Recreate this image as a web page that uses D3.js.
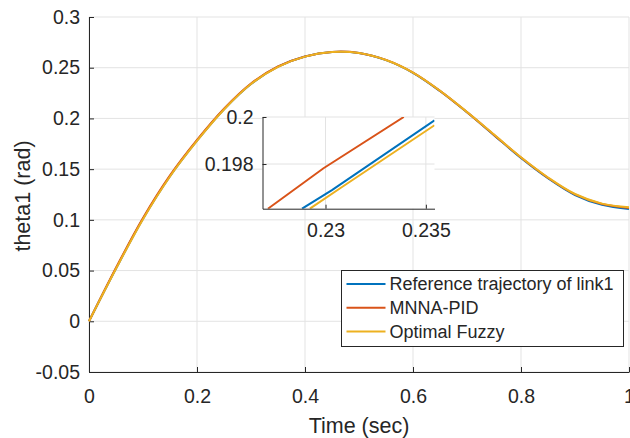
<!DOCTYPE html>
<html>
<head>
<meta charset="utf-8">
<script src="https://cdn.jsdelivr.net/npm/d3@7"></script>
<style>
  body { margin: 0; background: #fff; }
  text { font-family: "Liberation Sans", Arial, sans-serif; fill: #262626; }
</style>
</head>
<body>
<div id="chart"></div>
<script>
// Time samples (sec) and theta1 values (rad)
const time = [0, 0.05, 0.1, 0.15, 0.2, 0.25, 0.3, 0.35, 0.4, 0.45, 0.5,
              0.55, 0.6, 0.65, 0.7, 0.75, 0.8, 0.85, 0.9, 0.95, 1.0];
const reference = [0, 0.052, 0.101, 0.143, 0.178, 0.209, 0.234, 0.251, 0.261, 0.2655, 0.2645,
                   0.2575, 0.245, 0.227, 0.206, 0.1835, 0.161, 0.141, 0.1245, 0.1148, 0.1108];
const mnnaPid = [0, 0.0528, 0.1018, 0.1438, 0.1788, 0.2096, 0.2344, 0.2512, 0.2611, 0.2656, 0.2646,
                 0.2577, 0.2452, 0.2272, 0.2062, 0.1838, 0.1614, 0.1414, 0.1251, 0.1156, 0.1118];
const optimalFuzzy = [0, 0.0518, 0.1007, 0.1428, 0.1778, 0.2088, 0.2339, 0.2509, 0.2609, 0.2654, 0.2645,
                      0.2576, 0.2452, 0.2273, 0.2064, 0.1841, 0.1617, 0.1418, 0.1255, 0.1160, 0.1124];

// Zoomed-in segments shown in the inset
const insetRef = [[0.22883, 0.1961], [0.23032, 0.19689], [0.23543, 0.19986]];
const insetPid = [[0.22713, 0.1961], [0.2299, 0.19782], [0.2339, 0.2]];
const insetFuzzy = [[0.22922, 0.1961], [0.23073, 0.19697], [0.23543, 0.19965]];

const xTicks = [0, 0.2, 0.4, 0.6, 0.8, 1];
const yTicks = [-0.05, 0, 0.05, 0.1, 0.15, 0.2, 0.25, 0.3];
const insetXTicks = [0.23, 0.235];
const insetYTicks = [0.198, 0.2];

const seriesNames = ["Reference trajectory of link1", "MNNA-PID", "Optimal Fuzzy"];
const colors = ["#0072BD", "#D95319", "#EDB120"];

const width = 630, height = 438;
const axisColor = "#262626", gridColor = "#e3e3e3";
const tickFont = "19.5px", labelFont = "21.5px";
const fmt = d => String(d); // plain hyphen minus like the original

const svg = d3.select("#chart").append("svg")
    .attr("width", width)
    .attr("height", height);

// Main axes
const x = d3.scaleLinear().domain([0, 1]).range([89, 629]);
const y = d3.scaleLinear().domain([-0.05, 0.3]).range([372, 17]);

// Grid
svg.append("g").selectAll("line").data(xTicks).join("line")
    .attr("x1", d => x(d)).attr("x2", d => x(d))
    .attr("y1", y.range()[0]).attr("y2", y.range()[1])
    .attr("stroke", gridColor);
svg.append("g").selectAll("line").data(yTicks).join("line")
    .attr("x1", x.range()[0]).attr("x2", x.range()[1])
    .attr("y1", d => y(d)).attr("y2", d => y(d))
    .attr("stroke", gridColor);

// Axes with inward ticks
function styleAxis(g) {
    g.select(".domain").attr("stroke", axisColor);
    g.selectAll(".tick line").attr("stroke", axisColor);
    g.selectAll(".tick text").attr("fill", axisColor)
        .style("font-family", "'Liberation Sans', Arial, sans-serif")
        .style("font-size", tickFont);
}

svg.append("g")
    .attr("transform", `translate(0,${y(-0.05)})`)
    .call(d3.axisBottom(x).tickValues(xTicks).tickFormat(fmt).tickSize(-5).tickSizeOuter(0).tickPadding(17))
    .call(styleAxis);

svg.append("g")
    .attr("transform", `translate(${x(0)},0)`)
    .call(d3.axisLeft(y).tickValues(yTicks).tickFormat(fmt).tickSize(-5).tickSizeOuter(0).tickPadding(9))
    .call(styleAxis);

// Curves
const mainData = [reference, mnnaPid, optimalFuzzy];
const line = d3.line()
    .x(d => x(d[0]))
    .y(d => y(d[1]))
    .curve(d3.curveCatmullRom);

svg.append("g").selectAll("path").data(mainData).join("path")
    .attr("d", vals => line(time.map((t, i) => [t, vals[i]])))
    .attr("fill", "none")
    .attr("stroke", (d, i) => colors[i])
    .attr("stroke-width", 2);

// Axis labels
svg.append("text")
    .attr("x", (x(0) + x(1)) / 2)
    .attr("y", 433)
    .attr("text-anchor", "middle")
    .style("font-size", labelFont)
    .text("Time (sec)");

svg.append("text")
    .attr("transform", `translate(29.5,196) rotate(-90)`)
    .attr("text-anchor", "middle")
    .style("font-size", labelFont)
    .text("theta1 (rad)");

// Inset
const ix = d3.scaleLinear().domain([0.22686, 0.23543]).range([262.5, 434.5]);
const iy = d3.scaleLinear().domain([0.1961, 0.2]).range([208.7, 117]);

const inset = svg.append("g");
inset.append("rect")
    .attr("x", ix.range()[0]).attr("y", iy.range()[1])
    .attr("width", ix.range()[1] - ix.range()[0])
    .attr("height", iy.range()[0] - iy.range()[1])
    .attr("fill", "#fff");

inset.append("g").selectAll("line").data(insetXTicks).join("line")
    .attr("x1", d => ix(d)).attr("x2", d => ix(d))
    .attr("y1", iy.range()[0]).attr("y2", iy.range()[1])
    .attr("stroke", gridColor);
inset.append("g").selectAll("line").data(insetYTicks).join("line")
    .attr("x1", ix.range()[0]).attr("x2", ix.range()[1])
    .attr("y1", d => iy(d)).attr("y2", d => iy(d))
    .attr("stroke", gridColor);

inset.append("defs").append("clipPath").attr("id", "insetClip")
    .append("rect")
    .attr("x", ix.range()[0]).attr("y", iy.range()[1])
    .attr("width", ix.range()[1] - ix.range()[0])
    .attr("height", iy.range()[0] - iy.range()[1]);

const insetLine = d3.line().x(d => ix(d[0])).y(d => iy(d[1]));
inset.append("g").attr("clip-path", "url(#insetClip)")
    .selectAll("path").data([insetRef, insetPid, insetFuzzy]).join("path")
    .attr("d", insetLine)
    .attr("fill", "none")
    .attr("stroke", (d, i) => colors[i])
    .attr("stroke-width", 2);

inset.append("g")
    .attr("transform", `translate(0,${iy.range()[0]})`)
    .call(d3.axisBottom(ix).tickValues(insetXTicks).tickFormat(fmt).tickSize(-4).tickSizeOuter(0).tickPadding(14.5))
    .call(styleAxis);

inset.append("g")
    .attr("transform", `translate(${ix.range()[0]},0)`)
    .call(d3.axisLeft(iy).tickValues(insetYTicks).tickFormat(fmt).tickSize(-4).tickSizeOuter(0).tickPadding(9))
    .call(styleAxis);

// Legend
const legend = svg.append("g").attr("transform", "translate(341.5,270.5)");
legend.append("rect")
    .attr("width", 282).attr("height", 76)
    .attr("fill", "#fff")
    .attr("stroke", axisColor)
    .attr("stroke-width", 1);

const items = legend.selectAll("g.item").data(seriesNames).join("g")
    .attr("class", "item")
    .attr("transform", (d, i) => `translate(0,${13.5 + i * 23.7})`);
items.append("line")
    .attr("x1", 5).attr("x2", 44)
    .attr("stroke", (d, i) => colors[i])
    .attr("stroke-width", 2);
items.append("text")
    .attr("x", 48)
    .attr("dy", "0.35em")
    .style("font-size", "18px")
    .text(d => d);
</script>
</body>
</html>
